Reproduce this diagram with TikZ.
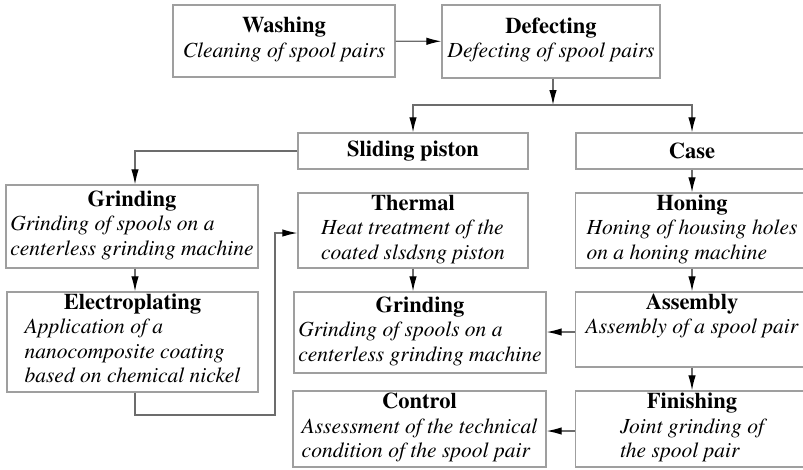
\documentclass[tikz,border=0pt]{standalone}
\usepackage[T1]{fontenc}
\usepackage{mathptmx}
\usetikzlibrary{positioning, arrows.meta}

% title in bold, description lines in italics, left aligned
\newcommand{\stagetext}[2]{{\fontsize{22.5}{24.5}\selectfont\textbf{#1}}\\\textit{\begin{tabular}[t]{@{}l@{}}#2\end{tabular}}}

\begin{document}
\begin{tikzpicture}[
    x=1pt, y=-1pt,
    every node/.style={font=\fontsize{21.5}{24.5}\selectfont, inner sep=0pt},
    stage/.style={draw=gray!75, line width=1.3pt, rectangle, align=center},
    flow/.style={draw=gray!85!black, line width=1.2pt, -{Latex[black, length=15pt, width=7.5pt]}}
]
\clip (0,0) rectangle (803,469);
% draw the stages
\node[stage, minimum width=222pt, minimum height=72pt] (washing) at (284,41) {\stagetext{Washing}{Cleaning of spool pairs}};
\node[stage, minimum width=218pt, minimum height=73pt] (defecting) at (551,41.5) {\stagetext{Defecting}{Defecting of spool pairs}};
\node[stage, minimum width=230pt, minimum height=36pt, font=\fontsize{22.5}{24.5}\selectfont] (piston) at (413,151) {\textbf{Sliding piston}};
\node[stage, minimum width=232pt, minimum height=36pt, font=\fontsize{22.5}{24.5}\selectfont] (case) at (692,151) {\textbf{Case}};
\node[stage, minimum width=252pt, minimum height=83pt] (grinding_a) at (132,226.5) {\stagetext{Grinding}{Grinding of spools on a\\centerless grinding machine}};
\node[stage, minimum width=251pt, minimum height=100pt] (plating) at (132.5,342) {\stagetext{Electroplating}{Application of a\\nanocomposite coating\\based on chemical nickel}};
\node[stage, minimum width=230pt, minimum height=75pt] (thermal) at (413,230.5) {\stagetext{Thermal}{Heat treatment of the\\coated slsdsng piston}};
\node[stage, minimum width=252pt, minimum height=81pt] (grinding_b) at (420,332.5) {\stagetext{Grinding}{Grinding of spools on a\\centerless grinding machine}};
\node[stage, minimum width=253pt, minimum height=76pt] (control) at (419.5,429) {\stagetext{Control}{Assessment of the technical\\condition of the spool pair}};
\node[stage, minimum width=233pt, minimum height=75pt] (honing) at (692,230.5) {\stagetext{Honing}{Honing of housing holes\\on a honing machine}};
\node[stage, minimum width=233pt, minimum height=75pt] (assembly) at (692,329.5) {\stagetext{Assembly}{Assembly of a spool pair\\{}}};
\node[stage, minimum width=233pt, minimum height=76pt] (finishing) at (692,429) {\stagetext{Finishing}{Joint grinding of\\the spool pair}};
% helper points
\coordinate (split) at (553,105);
\coordinate (bend) at (275,415);
% draw the connectors
\draw[flow] (washing) -- (defecting);
\draw[flow] (defecting.south -| split) -- (split);
\draw[flow] (split) -| (piston.north);
\draw[flow] (split) -| (case.north);
\draw[flow] (piston.west) -| (grinding_a.north -| 135,0);
\draw[flow] (grinding_a.south -| 135,0) -- (plating.north -| 135,0);
\draw[flow] (plating.south -| 135,0) |- (bend) |- ([yshift=-2.5pt]thermal.west);
\draw[flow] (thermal.south) -- (thermal.south |- grinding_b.north);
\draw[flow] (case) -- (honing);
\draw[flow] (honing) -- (assembly);
\draw[flow] (assembly) -- (finishing);
\draw[flow] ([yshift=-2.5pt]assembly.west) -- ([yshift=-2.5pt]assembly.west -| grinding_b.east);
\draw[flow] ([yshift=-2pt]finishing.west) -- ([yshift=-2pt]finishing.west -| control.east);
\end{tikzpicture}
\end{document}
